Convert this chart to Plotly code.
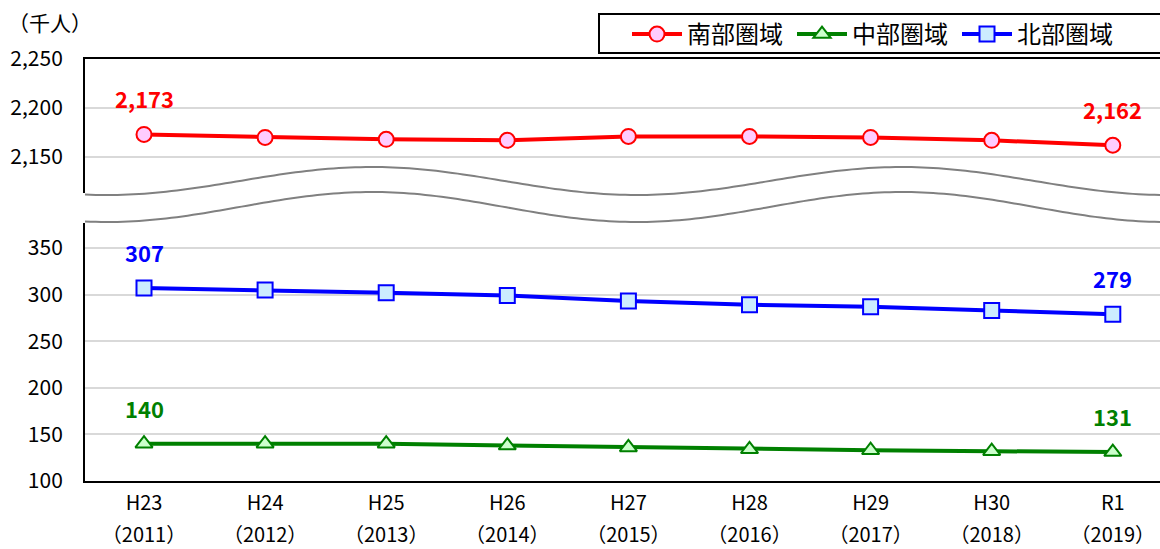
import numpy as np
import plotly.graph_objects as go

# ---- data ----
categories = ["H23", "H24", "H25", "H26", "H27", "H28", "H29", "H30", "R1"]
years = ["（2011）", "（2012）", "（2013）", "（2014）", "（2015）", "（2016）", "（2017）", "（2018）", "（2019）"]
south = [2173, 2170, 2168, 2167, 2171, 2171, 2170, 2167, 2162]   # 南部圏域
central = [140, 140, 140, 138, 136, 134, 133, 132, 131]           # 中部圏域
north = [307, 305, 302, 299, 293, 289, 287, 283, 279]             # 北部圏域
top_ticks = [2150, 2200, 2250]
top_ticktext = ["2,150", "2,200", "2,250"]
bottom_ticks = [100, 150, 200, 250, 300, 350]

FONT = "Noto Sans CJK JP"
W, H = 1160, 549
L, R, T, B = 85, 0, 59, 68
PW, PH = W - L - R, H - T - B

def px_x(px):
    return (px - L) / PW

def px_y(py):
    return (H - B - py) / PH

xi = list(range(len(categories)))

fig = go.Figure()

fig.add_trace(go.Scatter(
    x=xi, y=south, name="南部圏域", xaxis="x2", yaxis="y2", mode="lines+markers",
    line=dict(color="#FF0000", width=4),
    marker=dict(symbol="circle", size=15, color="#FFCCFF", line=dict(color="#FF0000", width=2)),
))
fig.add_trace(go.Scatter(
    x=xi, y=central, name="中部圏域", xaxis="x", yaxis="y", mode="lines+markers",
    line=dict(color="#008000", width=4),
    marker=dict(symbol="triangle-up", size=15, color="#CCFFCC", line=dict(color="#008000", width=2)),
))
fig.add_trace(go.Scatter(
    x=xi, y=north, name="北部圏域", xaxis="x", yaxis="y", mode="lines+markers",
    line=dict(color="#0000FF", width=4),
    marker=dict(symbol="square", size=15, color="#CCECFF", line=dict(color="#0000FF", width=2)),
))
# invisible carrier for the year tick-label axis
fig.add_trace(go.Scatter(x=xi, y=central, xaxis="x3", yaxis="y", mode="markers",
                         marker=dict(opacity=0), showlegend=False, hoverinfo="skip"))

xr = [-(144 - L) / 121.1, -(144 - L) / 121.1 + PW / 121.1]

axfont = dict(family=FONT, size=21, color="#000000")
xfont = dict(family=FONT, size=20, color="#000000")

# value labels for first and last points
annotations = []
for series, color, xa, ya in [(south, "#FF0000", "x2", "y2"),
                              (central, "#008000", "x", "y"),
                              (north, "#0000FF", "x", "y")]:
    for i in (0, len(series) - 1):
        annotations.append(dict(
            x=xi[i], y=series[i], xref=xa, yref=ya, text=f"{series[i]:,}",
            showarrow=False, yshift=36,
            font=dict(family=FONT, size=22, color=color, weight="bold")))

annotations.append(dict(x=px_x(6), y=px_y(22), xref="paper", yref="paper", text="（千人）",
                        xanchor="left", yanchor="middle", showarrow=False,
                        font=dict(family=FONT, size=21, color="#000000")))

# wavy break marks
shapes = []
xs = np.linspace(L, W, 200)
for center, amp in [(181, 14), (207, 15)]:
    ys = center - amp * np.cos(2 * np.pi * (xs - 372) / 530)
    path = "M " + " L ".join(f"{px_x(a):.5f},{px_y(b):.5f}" for a, b in zip(xs, ys))
    shapes.append(dict(type="path", path=path, xref="paper", yref="paper",
                       line=dict(color="#808080", width=2)))
# legend frame (extends past the right edge as in the reference)
shapes.append(dict(type="rect", xref="paper", yref="paper",
                   x0=px_x(599), x1=px_x(1175), y0=px_y(53), y1=px_y(14),
                   line=dict(color="#000000", width=2), fillcolor="rgba(0,0,0,0)"))

fig.update_layout(
    width=W, height=H,
    margin=dict(l=L, r=R, t=T, b=B, autoexpand=False),
    paper_bgcolor="white", plot_bgcolor="white",
    showlegend=True,
    legend=dict(orientation="h", x=px_x(627), y=px_y(12), xanchor="left", yanchor="top",
                borderwidth=0, bgcolor="rgba(0,0,0,0)",
                font=dict(family=FONT, size=24, color="#000000"),
                entrywidth=100, entrywidthmode="pixels", itemwidth=50),
    xaxis=dict(domain=[0, 1], range=xr, anchor="y", tickvals=xi, ticktext=categories,
               showgrid=False, zeroline=False, showline=True, linecolor="#000000", linewidth=2,
               ticks="", tickfont=xfont, ticklabelstandoff=3),
    xaxis3=dict(range=xr, overlaying="x", anchor="y", side="bottom", tickvals=xi, ticktext=years,
                showgrid=False, zeroline=False, showline=False, ticks="", tickfont=xfont,
                ticklabelstandoff=40),
    xaxis2=dict(domain=[0, 1], range=xr, anchor="y2", side="top", tickvals=xi,
                showticklabels=False, showgrid=False, zeroline=False, showline=True,
                linecolor="#000000", linewidth=2, ticks=""),
    yaxis=dict(domain=[0, px_y(223)], range=[100, 350 + (248 - 223) / 0.932], anchor="x",
               tickvals=bottom_ticks, showgrid=True, gridcolor="#D9D9D9", gridwidth=2,
               zeroline=False, showline=True, linecolor="#000000", linewidth=2, ticks="",
               tickfont=axfont, ticklabelstandoff=16),
    yaxis2=dict(domain=[px_y(193), 1], range=[2150 - (193 - 157) / 0.98, 2250], anchor="x2",
                tickvals=top_ticks, ticktext=top_ticktext, showgrid=True, gridcolor="#D9D9D9",
                gridwidth=2, zeroline=False, showline=True, linecolor="#000000", linewidth=2,
                ticks="", tickfont=axfont, ticklabelstandoff=16),
    annotations=annotations,
    shapes=shapes,
)

fig.write_html("out.html", config={"displayModeBar": False},
               post_script="document.body.style.margin='0px';")
